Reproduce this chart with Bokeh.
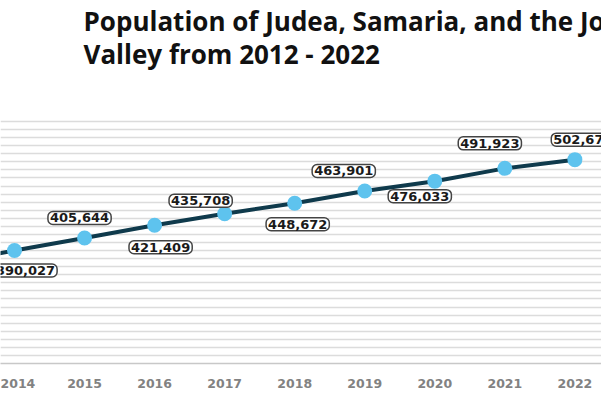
from bokeh.plotting import figure
from bokeh.models import ColumnDataSource, Range1d, FixedTicker, Grid, Label
from bokeh.core.properties import value
from bokeh.embed import file_html
from bokeh.resources import INLINE

# ---- data ----
YEARS = [2013, 2014, 2015, 2016, 2017, 2018, 2019, 2020, 2021, 2022]
POPULATION = [374000, 390027, 405644, 421409, 435708, 448672, 463901, 476033, 491923, 502675]
TICK_YEARS = [2014, 2015, 2016, 2017, 2018, 2019, 2020, 2021, 2022]
GRID_VALUES = list(range(250000, 550001, 10000))
TITLE_1 = "Population of Judea, Samaria, and the Jordan"
TITLE_2 = "Valley from 2012 - 2022"

# label placement hints (screen px)
LABEL_DX = [0, 11, -5, 6, -24, 3, -21, -15, -15, 8]
LABEL_DY = [-20, 20, -20, 22, -13, 21, -20, 15, -25, -20]

labels = [f"{v:,}" for v in POPULATION]

W, H = 601, 393
# frame spans the whole height above the axis; the upper part holds the title
p = figure(width=W, height=H, output_backend="svg", toolbar_location=None,
           x_range=Range1d(2013.800, 2022.380), y_range=Range1d(250000, 700000),
           y_axis_location=None, min_border_left=0, min_border_right=0,
           min_border_top=0, min_border_bottom=30)
p.outline_line_color = None
p.background_fill_color = "white"
p.border_fill_color = "white"
p.xgrid.visible = False
p.ygrid.visible = False   # hide default grid; a fixed-tick grid is added below

grid = Grid(dimension=1, ticker=FixedTicker(ticks=GRID_VALUES),
            grid_line_color="#dcdcdc", grid_line_width=1.5)
p.add_layout(grid)

p.xaxis.ticker = FixedTicker(ticks=TICK_YEARS)
p.xaxis.axis_line_color = "#c8c8c8"
p.xaxis.axis_line_width = 1.5
p.xaxis.major_tick_line_color = None
p.xaxis.minor_tick_line_color = None
p.xaxis.major_tick_out = 0
p.xaxis.major_tick_in = 0
p.xaxis.major_label_standoff = 15
p.xaxis.major_label_text_font = "DejaVu Sans"
p.xaxis.major_label_text_font_style = "bold"
p.xaxis.major_label_text_font_size = "12.5px"
p.xaxis.major_label_text_color = "#828282"

src = ColumnDataSource(dict(x=YEARS, y=POPULATION, t=labels, dx=LABEL_DX, dy=LABEL_DY))
p.line("x", "y", source=src, line_color="#0f3a4c", line_width=4)
p.scatter("x", "y", source=src, size=15, fill_color="#5ec3ee", line_color=None)
p.text("x", "y", text="t", source=src, x_offset="dx", y_offset="dy",
       text_align="center", text_baseline="middle",
       text_font=value("DejaVu Sans"), text_font_style="bold",
       text_font_size="13px", text_color="#1a1a1a",
       background_fill_color="white", border_line_color="#444444",
       border_line_width=1.5, border_radius=5, padding=2)

for txt, yy in ((TITLE_1, 343), (TITLE_2, 310)):
    p.add_layout(Label(x=83, y=yy, x_units="screen", y_units="screen", text=txt,
                       text_font="Open Sans", text_font_style="bold",
                       text_font_size="26px", text_color="#111111",
                       text_baseline="alphabetic", text_align="left"))

open("out.html", "w").write(file_html(p, INLINE))
